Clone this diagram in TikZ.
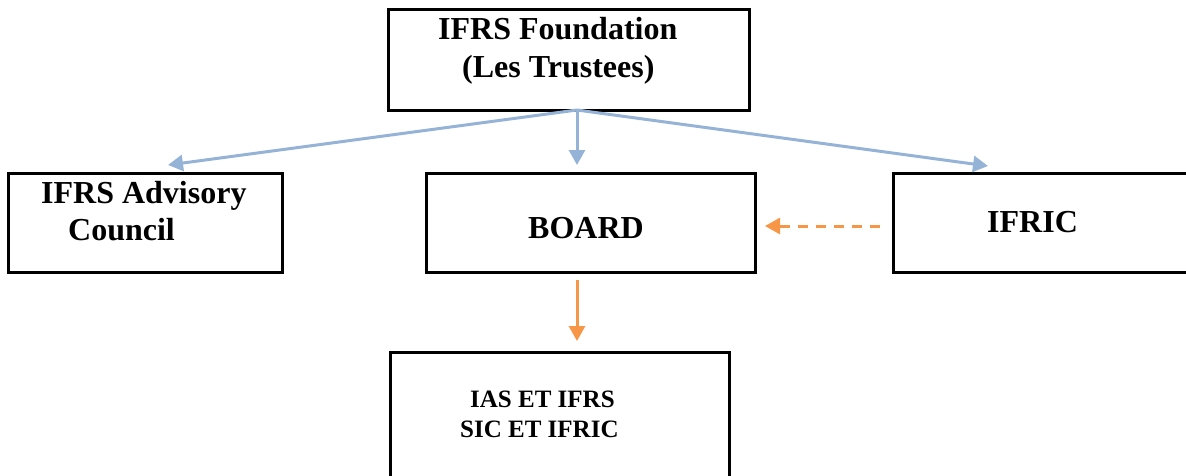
\documentclass[tikz,border=0pt]{standalone}
\usepackage{fontspec}
\setmainfont{Liberation Serif}
\usetikzlibrary{arrows.meta}
\definecolor{cblue}{HTML}{95B3D7}
\definecolor{corange}{HTML}{F79646}
\tikzset{
  box/.style={draw=black, line width=3pt, rectangle, inner sep=0pt},
  bigtxt/.style={anchor=base west, inner sep=0pt, font=\fontsize{32}{38}\selectfont\bfseries},
  smalltxt/.style={anchor=base west, inner sep=0pt, font=\fontsize{25}{30}\selectfont\bfseries},
  bluearrow/.style={draw=cblue, line width=3pt, -{Triangle[length=15pt,width=16pt]}},
  orangearrow/.style={draw=corange, line width=3pt, -{Triangle[length=15pt,width=16pt]}},
}
\begin{document}
\begin{tikzpicture}[x=1pt,y=-1pt]
\useasboundingbox (0,0) rectangle (1186,475);
\clip (0,0) rectangle (1186,475);
% boxes
\node[box, minimum width=361pt, minimum height=101pt] (found) at (568.5,59.5) {};
\node[box, minimum width=274pt, minimum height=99pt] (adv) at (145,222.5) {};
\node[box, minimum width=329pt, minimum height=99pt] (board) at (590.5,222.5) {};
\node[box, minimum width=300pt, minimum height=99pt] (ifric) at (1043,222.5) {};
\node[box, minimum width=339pt, minimum height=140pt] (std) at (559.5,422) {};
% texts
\node[bigtxt] (t1) at (438,39) {IFRS Foundation};
\node[bigtxt] (t2) at (462,77) {(Les Trustees)};
\node[bigtxt] (t3) at (41,203) {IFRS Advisory};
\node[bigtxt] (t4) at (68,240) {Council};
\node[bigtxt] (t5) at (528,238) {BOARD};
\node[bigtxt] (t6) at (987,232) {IFRIC};
\node[smalltxt] (t7) at (470,407) {IAS ET IFRS};
\node[smalltxt] (t8) at (460,437) {SIC ET IFRIC};
% connector points
\coordinate (src) at (577,110);
\coordinate (tipL) at (168,165);
\coordinate (tipM) at (577,165);
\coordinate (tipR) at (988,166);
\coordinate (bsrc) at (577,280);
\coordinate (btip) at (577,341);
\coordinate (dsrc) at (880,226);
\coordinate (dtip) at (765,226);
% arrows
\draw[bluearrow] (src) -- (tipL);
\draw[bluearrow] (src) -- (tipM);
\draw[bluearrow] (src) -- (tipR);
\draw[orangearrow] (bsrc) -- (btip);
\draw[orangearrow, dash pattern=on 10pt off 8pt] (dsrc) -- (dtip);
\end{tikzpicture}
\end{document}
